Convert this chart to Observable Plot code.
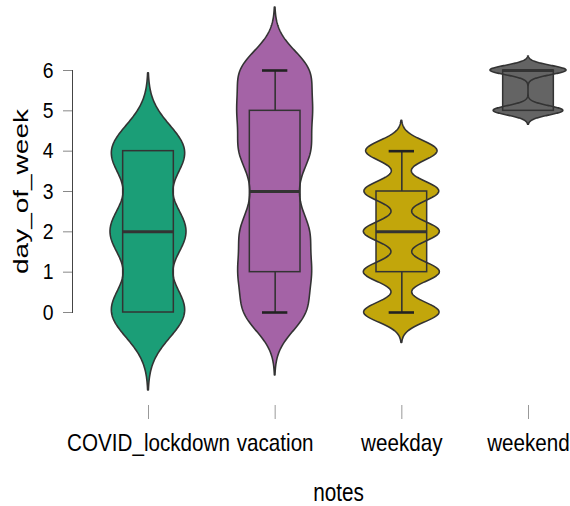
<!DOCTYPE html>
<html>
<head>
<meta charset="utf-8">
<script src="https://cdn.jsdelivr.net/npm/d3@7"></script>
<script src="https://cdn.jsdelivr.net/npm/@observablehq/plot@0.6"></script>
<style>
  body { margin: 0; background: #fff; }
  #chart svg { display: block; }
</style>
</head>
<body>
<div id="chart"></div>
<script>
// Groups shown along the x axis
const notes = ["COVID_lockdown", "vacation", "weekday", "weekend"];
// day_of_week values (0 = Monday … 6 = Sunday)
const days = [0, 1, 2, 3, 4, 5, 6];
// number of records falling on each day, per group
const covidCounts    = [18, 2, 18, 2, 18, 0, 0];
const vacationCounts = [83, 88, 87, 49, 90, 89, 93];
const weekdayCounts  = [660, 665, 665, 655, 625, 0, 0];
const weekendCounts  = [0, 0, 0, 0, 0, 440, 480];
const noteColors = ["#1B9E77", "#A463A6", "#C2A60B", "#646464"];
const yTicks = [0, 1, 2, 3, 4, 5, 6];
const xTitle = "notes";
const yTitle = "day_of_week";

const countsByNote = [covidCounts, vacationCounts, weekdayCounts, weekendCounts];

// expand the day counts into raw observations
function expand(counts) {
  const out = [];
  counts.forEach((c, k) => { for (let j = 0; j < c; j++) out.push(days[k]); });
  return out;
}

// R's bw.nrd0 rule of thumb
function nrd0(v) {
  const s = d3.deviation(v);
  const iqr = d3.quantileSorted(v, 0.75) - d3.quantileSorted(v, 0.25);
  const lo = Math.min(s, iqr / 1.34) || s || 1;
  return 0.9 * lo * Math.pow(v.length, -0.2);
}

const VIOLIN_HALF = 0.3;   // half width of the widest part of each violin
const BOX_HALF = 0.2;
const CAP_HALF = 0.1;

const violin = [];
const boxes = [];
countsByNote.forEach((counts, i) => {
  const v = expand(counts).sort(d3.ascending);
  const bw = nrd0(v);
  const lo = v[0] - 3 * bw, hi = v[v.length - 1] + 3 * bw;
  const N = 300;
  const pts = d3.range(N + 1).map(j => {
    const y = lo + (hi - lo) * j / N;
    let d = 0;
    counts.forEach((c, k) => {
      if (c) { const z = (y - days[k]) / bw; d += c * Math.exp(-0.5 * z * z); }
    });
    return {y, d};
  });
  const dmax = d3.max(pts, p => p.d);
  pts.forEach(p => {
    const w = VIOLIN_HALF * p.d / dmax;
    violin.push({note: notes[i], y: p.y, x1: i - w, x2: i + w});
  });

  const q1 = d3.quantileSorted(v, 0.25);
  const med = d3.quantileSorted(v, 0.5);
  const q3 = d3.quantileSorted(v, 0.75);
  const iqr = q3 - q1;
  const wlo = d3.min(v.filter(x => x >= q1 - 1.5 * iqr));
  const whi = d3.max(v.filter(x => x <= q3 + 1.5 * iqr));
  boxes.push({note: notes[i], i, q1, med, q3, wlo, whi});
});

// whisker caps only where the whisker reaches past the box
const topCaps = boxes.filter(b => b.whi > b.q3);
const bottomCaps = boxes.filter(b => b.wlo < b.q1);

const ink = "#333333";

const chart = Plot.plot({
  width: 570,
  height: 506,
  marginLeft: 72,
  marginRight: 42,
  marginTop: 70,
  marginBottom: 194,
  style: {fontFamily: "'Liberation Sans', Arial, sans-serif", background: "#fff", color: "#000", overflow: "visible"},
  x: {domain: [0, notes.length - 1], range: [148, 528]},
  y: {domain: [0, 6]},
  color: {domain: notes, range: noteColors},
  marks: [
    // violin bodies
    Plot.areaX(violin, {y: "y", x1: "x1", x2: "x2", z: "note", fill: "note", curve: "linear"}),
    // box bodies
    Plot.rect(boxes, {x1: d => d.i - BOX_HALF, x2: d => d.i + BOX_HALF, y1: "q1", y2: "q3", fill: "note"}),
    // violin outlines
    Plot.areaX(violin, {y: "y", x1: "x1", x2: "x2", z: "note", fill: "none", stroke: ink, strokeWidth: 1.6, curve: "linear"}),
    // box outlines
    Plot.rect(boxes, {x1: d => d.i - BOX_HALF, x2: d => d.i + BOX_HALF, y1: "q1", y2: "q3", fill: "none", stroke: ink, strokeWidth: 1.5}),
    // whiskers
    Plot.ruleX(topCaps, {x: "i", y1: "q3", y2: "whi", stroke: ink, strokeWidth: 1.6}),
    Plot.ruleX(bottomCaps, {x: "i", y1: "wlo", y2: "q1", stroke: ink, strokeWidth: 1.6}),
    Plot.ruleY(topCaps, {y: "whi", x1: d => d.i - CAP_HALF, x2: d => d.i + CAP_HALF, stroke: "#222", strokeWidth: 2.6}),
    Plot.ruleY(bottomCaps, {y: "wlo", x1: d => d.i - CAP_HALF, x2: d => d.i + CAP_HALF, stroke: "#222", strokeWidth: 2.6}),
    // medians
    Plot.ruleY(boxes, {y: "med", x1: d => d.i - BOX_HALF, x2: d => d.i + BOX_HALF, stroke: ink, strokeWidth: 3}),
    // y axis
    Plot.frame({anchor: "left", stroke: "#444", strokeWidth: 1}),
    Plot.axisY({ticks: yTicks, tickFormat: d => String(d), tickSize: 9, tickPadding: 10, fontSize: 22, stroke: "#888", label: null}),
    // x axis
    Plot.axisX({ticks: d3.range(notes.length), tickFormat: i => notes[i], tickSize: 14, tickPadding: 14, dy: 93,
      fontSize: 24, stroke: "#999", label: null}),
    // axis titles
    Plot.text([yTitle], {frameAnchor: "left", dx: -51, rotate: -90, fontSize: 28, lineAnchor: "middle", textAnchor: "middle"}),
    Plot.text([xTitle], {x: () => (notes.length - 1) / 2, frameAnchor: "bottom", dy: 180, fontSize: 25, lineAnchor: "middle"})
  ]
});

document.getElementById("chart").appendChild(chart);

// the type is set horizontally narrow: scale each label about its own anchor
const isNumber = v => v != null && /^-?[\d.]+$/.test(v);
function squeeze(node, sx, sy) {
  const t = node.getAttribute("transform") || "";
  const x = node.getAttribute("x"), y = node.getAttribute("y");
  let tx = 0, ty = 0;
  if (isNumber(x)) { tx = +x; node.removeAttribute("x"); }
  if (isNumber(y)) { ty = +y; node.removeAttribute("y"); }
  node.setAttribute("transform", `${t} translate(${tx},${ty}) scale(${sx},${sy})`);
}
const yTickText = new Set(yTicks.map(String));
d3.select(chart).selectAll("text").each(function() {
  const s = this.textContent;
  if (s === yTitle) squeeze(this, 1, 0.72);
  else if (s === xTitle) squeeze(this, 0.83, 1);
  else if (notes.includes(s)) squeeze(this, 0.86, 1);
  else if (yTickText.has(s)) squeeze(this, 0.88, 1);
});
</script>
</body>
</html>
